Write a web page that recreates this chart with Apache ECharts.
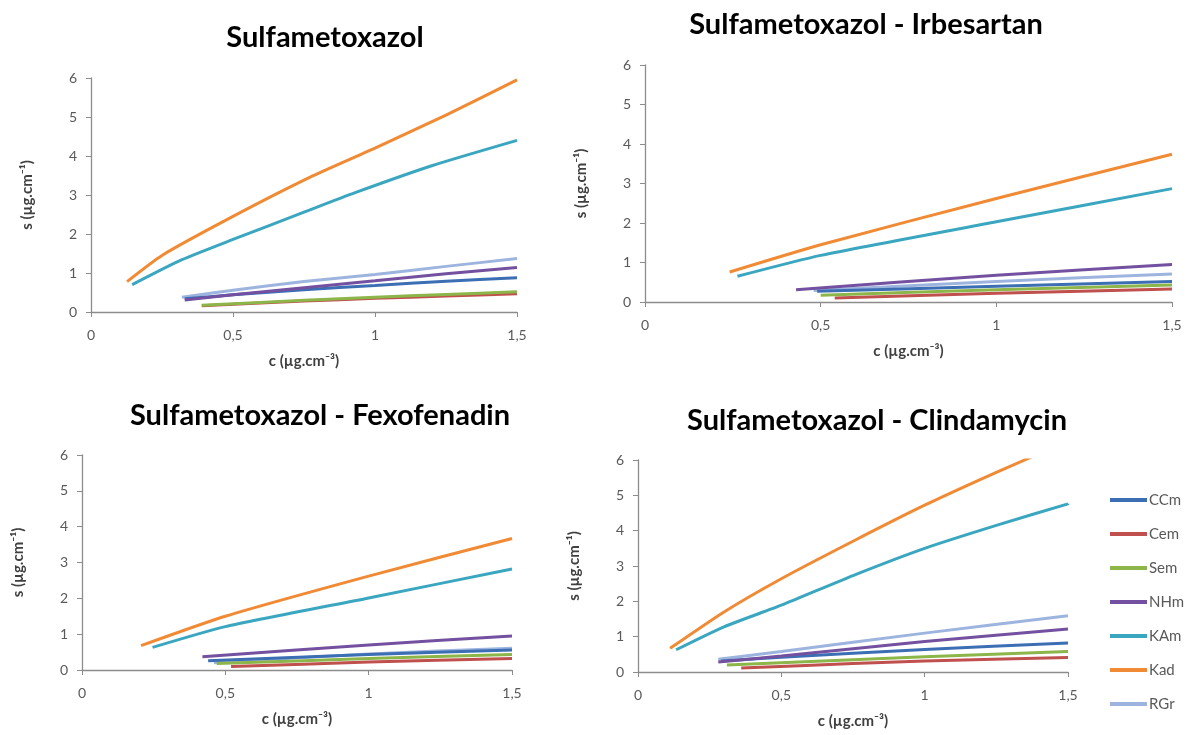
<!DOCTYPE html>
<html><head><meta charset="utf-8">
<script src="https://cdn.jsdelivr.net/npm/echarts@6/dist/echarts.min.js"></script>
<style>html,body{margin:0;padding:0;background:#fff}#c{width:1189px;height:735px}</style>
</head><body><div id="c"></div>
<script>
// ---------- DATA ----------
const seriesNames = ['CCm', 'Cem', 'Sem', 'NHm', 'KAm', 'Kad', 'RGr'];
const chartTitles = ['Sulfametoxazol', 'Sulfametoxazol - Irbesartan', 'Sulfametoxazol - Fexofenadin', 'Sulfametoxazol - Clindamycin'];
const xAxisTitle = 'c (µg.cm⁻³)';
const yAxisTitle = 's (µg.cm⁻¹)';
const xTickValues = [0, 0.5, 1, 1.5];
const xTickLabels = ['0', '0,5', '1', '1,5'];
const yTickLabels = ['0', '1', '2', '3', '4', '5', '6'];

// Chart 1: Sulfametoxazol
const sulfa_CCm = [[0.33,0.34],[0.5,0.44],[0.75,0.57],[1.0,0.68],[1.25,0.79],[1.5,0.88]];
const sulfa_Cem = [[0.39,0.16],[0.75,0.28],[1.0,0.35],[1.25,0.41],[1.5,0.47]];
const sulfa_Sem = [[0.39,0.17],[0.75,0.30],[1.0,0.38],[1.25,0.45],[1.5,0.52]];
const sulfa_NHm = [[0.33,0.31],[0.5,0.44],[0.75,0.62],[1.0,0.80],[1.25,0.98],[1.5,1.14]];
const sulfa_KAm = [[0.145,0.70],[0.32,1.34],[0.5,1.86],[0.75,2.56],[0.93,3.06],[1.2,3.75],[1.5,4.40]];
const sulfa_Kad = [[0.127,0.78],[0.25,1.45],[0.5,2.45],[0.77,3.45],[1.0,4.2],[1.25,5.05],[1.5,5.95]];
const sulfa_RGr = [[0.32,0.38],[0.5,0.56],[0.75,0.78],[1.0,0.96],[1.25,1.17],[1.5,1.37]];

// Chart 2: Sulfametoxazol - Irbesartan
const irbe_CCm = [[0.49,0.27],[1.0,0.40],[1.5,0.52]];
const irbe_Cem = [[0.54,0.10],[1.0,0.22],[1.5,0.33]];
const irbe_Sem = [[0.50,0.17],[1.0,0.31],[1.5,0.43]];
const irbe_NHm = [[0.43,0.31],[1.0,0.68],[1.5,0.95]];
const irbe_KAm = [[0.263,0.65],[0.5,1.18],[1.0,2.03],[1.5,2.87]];
const irbe_Kad = [[0.241,0.76],[0.5,1.45],[1.0,2.62],[1.5,3.74]];
const irbe_RGr = [[0.48,0.29],[1.0,0.52],[1.5,0.71]];

// Chart 3: Sulfametoxazol - Fexofenadin
const fexo_CCm = [[0.44,0.26],[1.0,0.43],[1.5,0.56]];
const fexo_Cem = [[0.52,0.10],[1.0,0.22],[1.5,0.32]];
const fexo_Sem = [[0.47,0.18],[1.0,0.32],[1.5,0.43]];
const fexo_NHm = [[0.42,0.37],[1.0,0.70],[1.5,0.95]];
const fexo_KAm = [[0.246,0.63],[0.5,1.21],[1.0,2.01],[1.5,2.82]];
const fexo_Kad = [[0.206,0.68],[0.5,1.50],[1.0,2.62],[1.5,3.67]];
const fexo_RGr = [[0.46,0.20],[1.0,0.45],[1.5,0.61]];

// Chart 4: Sulfametoxazol - Clindamycin
const clin_CCm = [[0.29,0.31],[0.5,0.42],[1.0,0.64],[1.5,0.82]];
const clin_Cem = [[0.36,0.11],[0.75,0.24],[1.0,0.31],[1.5,0.41]];
const clin_Sem = [[0.31,0.20],[0.75,0.35],[1.0,0.43],[1.5,0.58]];
const clin_NHm = [[0.28,0.28],[0.5,0.45],[1.0,0.86],[1.5,1.22]];
const clin_KAm = [[0.133,0.63],[0.3,1.28],[0.5,1.89],[0.75,2.73],[1.0,3.50],[1.25,4.15],[1.5,4.76]];
const clin_Kad = [[0.112,0.67],[0.3,1.70],[0.5,2.64],[0.75,3.70],[1.0,4.72],[1.25,5.65],[1.5,6.53]];
const clin_RGr = [[0.28,0.36],[0.5,0.58],[1.0,1.10],[1.5,1.59]];

const chartData = [
  [sulfa_CCm, sulfa_Cem, sulfa_Sem, sulfa_NHm, sulfa_KAm, sulfa_Kad, sulfa_RGr],
  [irbe_CCm, irbe_Cem, irbe_Sem, irbe_NHm, irbe_KAm, irbe_Kad, irbe_RGr],
  [fexo_CCm, fexo_Cem, fexo_Sem, fexo_NHm, fexo_KAm, fexo_Kad, fexo_RGr],
  [clin_CCm, clin_Cem, clin_Sem, clin_NHm, clin_KAm, clin_Kad, clin_RGr]
];

// ---------- STYLE / LAYOUT ----------
const colors = ['#3C6EB4', '#C0504D', '#8CB54A', '#7351A0', '#3BA6C0', '#F08A34', '#9DB5DE'];
const grids = [
  {left: 91, top: 78, width: 426, height: 234},
  {left: 645, top: 65, width: 527, height: 237},
  {left: 82, top: 455, width: 430, height: 215},
  {left: 638, top: 460, width: 430, height: 212}
];
const titlePos = [[320, 18], [861, 5], [315, 396], [872, 401]];
const FONT = 'Lato, "Open Sans", sans-serif';

const option = {
  animation: false,
  backgroundColor: '#fff',
  color: colors,
  title: chartTitles.map((t, i) => ({
    text: t, left: titlePos[i][0], top: titlePos[i][1], textAlign: 'center',
    textStyle: {fontFamily: FONT, fontWeight: 'bold', fontSize: 29, color: '#000'}
  })),
  legend: {
    data: seriesNames, orient: 'vertical', left: 1105, top: 487,
    icon: 'rect', itemWidth: 37, itemHeight: 4, itemGap: 18,
    textStyle: {fontFamily: FONT, fontSize: 15, color: '#595959', lineHeight: 16, padding: [0, 0, 0, -3]}
  },
  grid: grids.map(g => Object.assign({containLabel: false}, g)),
  xAxis: grids.map((g, i) => ({
    type: 'value', gridIndex: i, min: 0, max: 1.5, interval: 0.5,
    name: xAxisTitle, nameLocation: 'middle', nameGap: 42,
    nameTextStyle: {fontFamily: FONT, fontWeight: 'bold', fontSize: 15, color: '#404040'},
    axisLine: {show: true, lineStyle: {color: '#8C8C8C', width: 1.3}},
    axisTick: {show: true, length: 5, lineStyle: {color: '#8C8C8C'}},
    splitLine: {show: false},
    axisLabel: {margin: 16, fontFamily: FONT, fontSize: 14, color: '#595959',
      formatter: v => { const k = xTickValues.indexOf(+v.toFixed(2)); return k >= 0 ? xTickLabels[k] : ''; }}
  })),
  yAxis: grids.map((g, i) => ({
    type: 'value', gridIndex: i, min: 0, max: 6, interval: 1,
    name: yAxisTitle, nameLocation: 'middle', nameGap: 56,
    nameTextStyle: {fontFamily: FONT, fontWeight: 'bold', fontSize: 15, color: '#404040'},
    axisLine: {show: true, lineStyle: {color: '#8C8C8C', width: 1.3}},
    axisTick: {show: true, length: 5, lineStyle: {color: '#8C8C8C'}},
    splitLine: {show: false},
    axisLabel: {margin: 14, fontFamily: FONT, fontSize: 14, color: '#595959',
      formatter: v => yTickLabels[Math.round(v)] }
  })),
  series: []
};

chartData.forEach((set, gi) => {
  set.forEach((d, si) => {
    option.series.push({
      name: seriesNames[si], type: 'line', xAxisIndex: gi, yAxisIndex: gi,
      data: d, symbol: 'none', smooth: 0.2, clip: true,
      lineStyle: {width: 3, color: colors[si]}, itemStyle: {color: colors[si]},
      z: 2 + (si === 6 ? 0 : 1)
    });
  });
});

const chart = echarts.init(document.getElementById('c'), null, {renderer: 'canvas'});
chart.setOption(option);
</script></body></html>
